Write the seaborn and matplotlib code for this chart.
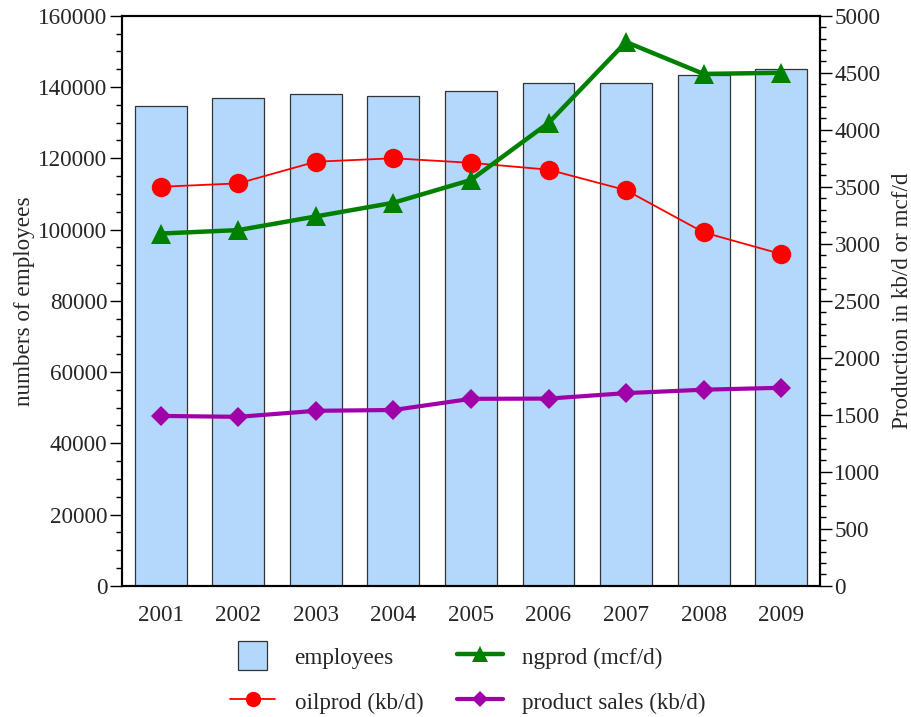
import numpy as np
import pandas as pd
import matplotlib
matplotlib.use("Agg")
import matplotlib.pyplot as plt
from matplotlib.ticker import MultipleLocator
from matplotlib.patches import Patch, Rectangle
from matplotlib.lines import Line2D
from matplotlib.legend_handler import HandlerPatch
import seaborn as sns

years = ["2001", "2002", "2003", "2004", "2005", "2006", "2007", "2008", "2009"]
employees = [134800, 137000, 138100, 137600, 139000, 141200, 141000, 143400, 145100]
oilprod = [3500, 3530, 3720, 3750, 3710, 3650, 3470, 3100, 2910]
ngprod = [3090, 3120, 3240, 3360, 3560, 4060, 4770, 4490, 4500]
product_sales = [1490, 1482, 1535, 1542, 1640, 1642, 1690, 1720, 1737]

FS = 16.7

sns.set_theme(style="white")
plt.rcParams["font.family"] = ["Liberation Serif", "DejaVu Serif"]
plt.rcParams["font.size"] = FS

df = pd.DataFrame({
    "year": years,
    "pos": np.arange(len(years)),
    "employees": employees,
    "oilprod": oilprod,
    "ngprod": ngprod,
    "sales": product_sales,
})

fig = plt.figure(figsize=(9.11, 7.17), dpi=100)
ax = fig.add_axes([0.134, 0.183, 0.766, 0.795])

bar_color = "#b3d8fb"
edge = "#333333"
sns.barplot(data=df, x="year", y="employees", ax=ax, color=bar_color,
            width=0.67, edgecolor=edge, linewidth=0.9, saturation=1)
ax.set_xlim(-0.5, len(years) - 0.5)
ax.set_ylim(0, 160000)
ax.yaxis.set_major_locator(MultipleLocator(20000))
ax.yaxis.set_minor_locator(MultipleLocator(5000))
ax.set_xlabel("")
ax.set_ylabel("numbers of employees", fontsize=FS, labelpad=2.5)
ax.tick_params(axis="y", which="major", direction="out", length=8.5, width=1,
               left=True, labelsize=FS, color="black", pad=2)
ax.tick_params(axis="y", which="minor", direction="out", length=4.3, width=1,
               left=True, color="black")
ax.tick_params(axis="x", bottom=False, labelsize=FS, pad=8)
for s in ax.spines.values():
    s.set_color("black")
    s.set_linewidth(1.5)

ax2 = ax.twinx()
sns.lineplot(data=df, x="pos", y="oilprod", ax=ax2, color="#ff0000", linewidth=1.3,
             marker="o", markersize=14, markeredgewidth=0)
sns.lineplot(data=df, x="pos", y="ngprod", ax=ax2, color="#008000", linewidth=3.2,
             marker="^", markersize=15, markeredgewidth=0)
sns.lineplot(data=df, x="pos", y="sales", ax=ax2, color="#a000a8", linewidth=3,
             marker="D", markersize=10, markeredgewidth=0)
ax2.set_xlim(-0.5, len(years) - 0.5)
ax2.set_ylim(0, 5000)
ax2.yaxis.set_major_locator(MultipleLocator(500))
ax2.yaxis.set_minor_locator(MultipleLocator(100))
ax2.set_xlabel("")
ax2.set_ylabel("Production in kb/d or mcf/d", fontsize=FS, labelpad=8)
ax2.tick_params(axis="y", which="major", direction="out", length=8.5, width=1,
                right=True, labelsize=FS, color="black", pad=2)
ax2.tick_params(axis="y", which="minor", direction="out", length=4.3, width=1,
                right=True, color="black")
for s in ax2.spines.values():
    s.set_color("black")
    s.set_linewidth(1.5)


def square_patch(legend, orig_handle, xdescent, ydescent, width, height, fontsize):
    side = 29 * 72 / fig.dpi
    return Rectangle((-xdescent + (width - side) / 2, -ydescent + (height - side) / 2),
                     side, side)


handles = [
    Patch(facecolor=bar_color, edgecolor=edge, linewidth=0.9),
    Line2D([], [], color="#ff0000", linewidth=1.3, marker="o", markersize=11, markeredgewidth=0),
    Line2D([], [], color="#008000", linewidth=3.2, marker="^", markersize=12, markeredgewidth=0),
    Line2D([], [], color="#a000a8", linewidth=3, marker="D", markersize=8.5, markeredgewidth=0),
]
labels = ["employees", "oilprod (kb/d)", "ngprod (mcf/d)", "product sales (kb/d)"]
fig.legend(handles, labels, ncol=2, loc="upper left", bbox_to_anchor=(0.252, 0.102),
           frameon=False, fontsize=FS, handlelength=1.98, handleheight=1.2,
           handletextpad=0.82, columnspacing=1.45, labelspacing=0.88,
           borderpad=0, borderaxespad=0,
           handler_map={Patch: HandlerPatch(patch_func=square_patch)})

fig.savefig("out.png", dpi=100)
